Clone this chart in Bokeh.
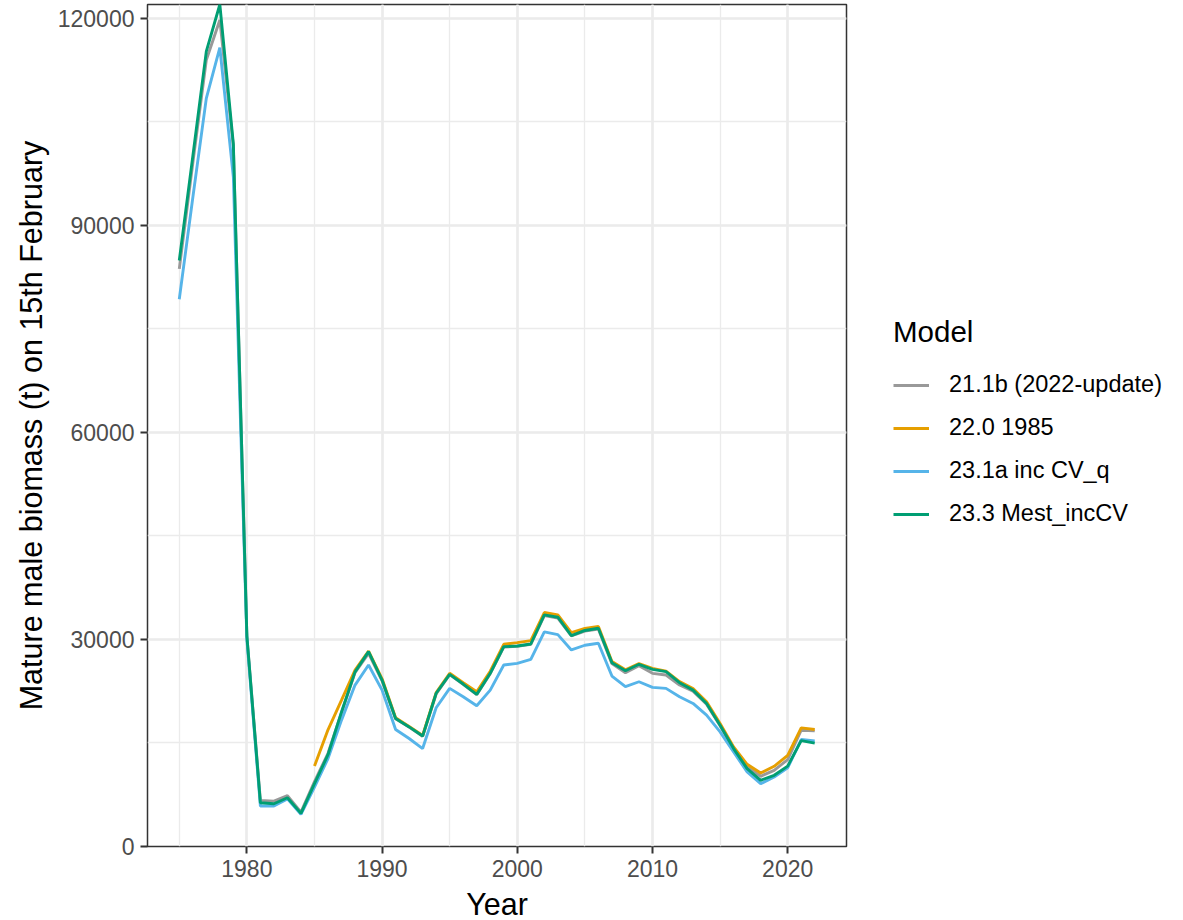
from bokeh.plotting import figure
from bokeh.models import Range1d, SingleIntervalTicker, Legend, LegendItem, NumeralTickFormatter
from bokeh.embed import file_html
from bokeh.resources import INLINE

years = list(range(1975, 2023))
years_22 = list(range(1985, 2023))

m211b = [83700, 99000, 113950, 119760, 101500, 30500, 6680, 6580, 7360, 4990,
         9400, 13500, 19400, 25200, 27990, 24000, 18500, 17300, 15950, 22100,
         24900, 23500, 22000, 25050, 28900, 29000, 29300, 33450, 33100, 30500,
         31200, 31500, 26500, 25180, 26200, 25090, 24840, 23400, 22500, 20600,
         17500, 14200, 11530, 10170, 11040, 12600, 16850, 16760]

m220 = [11650, 16900, 21200, 25560, 28300, 24300, 18650, 17400, 16100, 22300,
        25100, 23730, 22430, 25400, 29300, 29540, 29830, 33900, 33560, 31000,
        31600, 31870, 26800, 25600, 26500, 25800, 25400, 23900, 22900, 20970,
        17820, 14430, 11910, 10650, 11620, 13200, 17190, 16950]

m231a = [79300, 94000, 108400, 115750, 97000, 30000, 5860, 5860, 6900, 4650,
         8620, 12740, 18310, 23390, 26300, 22660, 16950, 15650, 14190, 20100,
         22910, 21690, 20390, 22660, 26300, 26540, 27120, 31090, 30700, 28480,
         29160, 29450, 24700, 23150, 23870, 23060, 22910, 21690, 20730, 19030,
         16610, 13700, 10800, 9100, 10080, 11400, 15500, 15300]

m233 = [84900, 100000, 115200, 122000, 101800, 30500, 6330, 6200, 7070, 4800,
        9100, 13300, 19500, 25300, 28230, 24120, 18550, 17330, 16000, 22200,
        24950, 23540, 22040, 25090, 28960, 29050, 29340, 33560, 33220, 30560,
        31300, 31630, 26640, 25470, 26400, 25670, 25330, 23730, 22660, 20730,
        17580, 14190, 11290, 9590, 10320, 11650, 15350, 14970]

labels = ["21.1b (2022-update)", "22.0 1985", "23.1a inc CV_q", "23.3 Mest_incCV"]
colors = ["#999999", "#E69F00", "#56B4E9", "#009E73"]

FONT = "Liberation Sans"

p = figure(frame_width=699, frame_height=842,
           x_range=Range1d(1972.65, 2024.35), y_range=Range1d(0, 122000),
           output_backend="svg", toolbar_location=None,
           min_border_left=147, min_border_right=337,
           min_border_top=4, min_border_bottom=74,
           background_fill_color="white", border_fill_color="white")

p.outline_line_color = "#333333"
p.outline_line_width = 1.5

p.xaxis.ticker = SingleIntervalTicker(interval=10, num_minor_ticks=2)
p.yaxis.ticker = SingleIntervalTicker(interval=30000, num_minor_ticks=2)
p.yaxis.formatter = NumeralTickFormatter(format="0")

for ax in (p.xaxis, p.yaxis):
    ax.axis_line_color = None
    ax.major_tick_line_color = "#333333"
    ax.major_tick_line_width = 2
    ax.major_tick_out = 7
    ax.major_tick_in = 0
    ax.minor_tick_out = 0
    ax.minor_tick_in = 0
    ax.minor_tick_line_color = None
    ax.major_label_text_font = FONT
    ax.major_label_text_font_size = "23px"
    ax.major_label_text_color = "#4D4D4D"
    ax.major_label_standoff = 6
    ax.axis_label_text_font = FONT
    ax.axis_label_text_font_size = "30.5px"
    ax.axis_label_text_font_style = "normal"
    ax.axis_label_text_color = "black"
    ax.axis_label_standoff = 7

p.xaxis.axis_label = "Year"
p.yaxis.axis_label = "Mature male biomass (t) on 15th February"

for g in (p.xgrid, p.ygrid):
    g.grid_line_color = "#EBEBEB"
    g.grid_line_width = 2.7
    g.minor_grid_line_color = "#EBEBEB"
    g.minor_grid_line_width = 1.3

r1 = p.line(years, m211b, line_color=colors[0], line_width=2.9)
r2 = p.line(years_22, m220, line_color=colors[1], line_width=2.9)
r3 = p.line(years, m231a, line_color=colors[2], line_width=2.9)
r4 = p.line(years, m233, line_color=colors[3], line_width=2.9)

items = [LegendItem(label=lab, renderers=[r]) for lab, r in zip(labels, [r1, r2, r3, r4])]
legend = Legend(items=items, title="Model", location=(47, 319),
                title_text_font=FONT, title_text_font_size="29.5px",
                title_text_font_style="normal", title_text_color="black",
                title_standoff=22,
                label_text_font=FONT, label_text_font_size="23.5px",
                label_text_color="black",
                label_height=24, glyph_height=24, glyph_width=36,
                label_standoff=20, spacing=16,
                padding=6, margin=47,
                border_line_color=None, background_fill_alpha=0)
p.add_layout(legend, "right")

open("out.html", "w").write(file_html(p, INLINE))
